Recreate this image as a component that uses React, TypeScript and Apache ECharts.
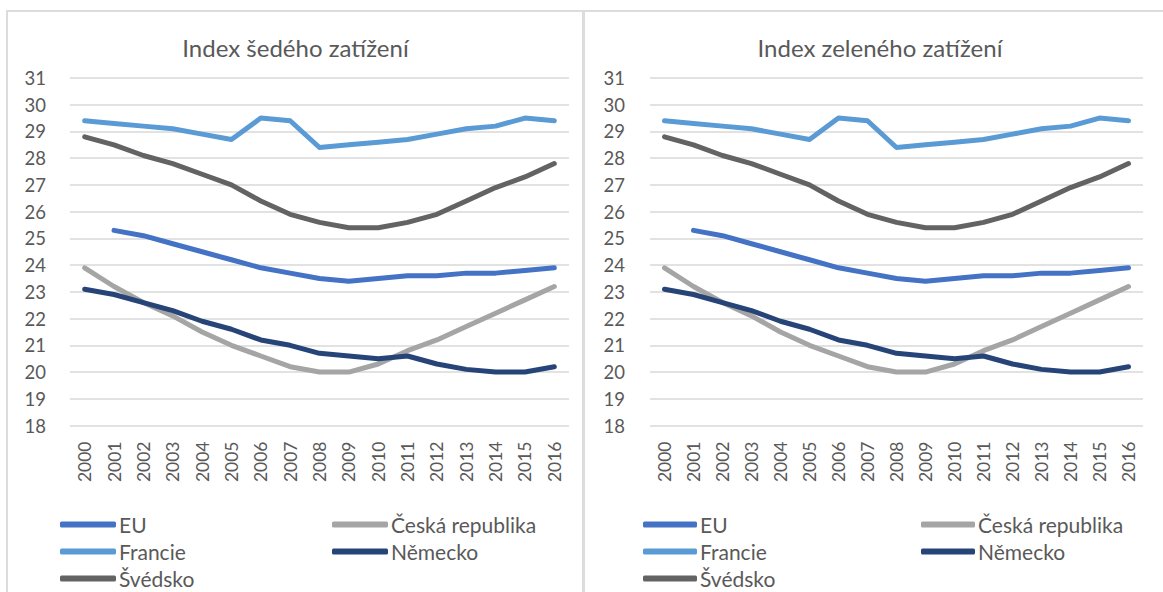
import React, { useEffect, useRef } from "react";
import * as echarts from "echarts";

const years = ["2000","2001","2002","2003","2004","2005","2006","2007","2008","2009","2010","2011","2012","2013","2014","2015","2016"];
const euValues = [null, 25.3, 25.1, 24.8, 24.5, 24.2, 23.9, 23.7, 23.5, 23.4, 23.5, 23.6, 23.6, 23.7, 23.7, 23.8, 23.9];
const czValues = [23.9, 23.2, 22.6, 22.1, 21.5, 21.0, 20.6, 20.2, 20.0, 20.0, 20.3, 20.8, 21.2, 21.7, 22.2, 22.7, 23.2];
const frValues = [29.4, 29.3, 29.2, 29.1, 28.9, 28.7, 29.5, 29.4, 28.4, 28.5, 28.6, 28.7, 28.9, 29.1, 29.2, 29.5, 29.4];
const deValues = [23.1, 22.9, 22.6, 22.3, 21.9, 21.6, 21.2, 21.0, 20.7, 20.6, 20.5, 20.6, 20.3, 20.1, 20.0, 20.0, 20.2];
const seValues = [28.8, 28.5, 28.1, 27.8, 27.4, 27.0, 26.4, 25.9, 25.6, 25.4, 25.4, 25.6, 25.9, 26.4, 26.9, 27.3, 27.8];

const seriesNames = ["EU", "Česká republika", "Francie", "Německo", "Švédsko"];
const seriesColors = ["#4472C4", "#A5A5A5", "#5B9BD5", "#264478", "#636363"];
const seriesValues = [euValues, czValues, frValues, deValues, seValues];

const titles = ["Index šedého zatížení", "Index zeleného zatížení"];

const FONT = "Lato, 'Open Sans', 'Noto Sans', sans-serif";
const TEXT = "#595959";

type Layout = {
  boxLeft: number;
  boxWidth: number;
  gridLeft: number;
  gridWidth: number;
  legendLeft1: number;
  legendLeft2: number;
  iconWidth: number;
  labelMargin: number;
};

const layouts: Layout[] = [
  { boxLeft: 7, boxWidth: 577, gridLeft: 63, gridWidth: 499, legendLeft1: 48, legendLeft2: 320, iconWidth: 56, labelMargin: 24 },
  { boxLeft: 583, boxWidth: 594, gridLeft: 67, gridWidth: 493, legendLeft1: 55, legendLeft2: 333, iconWidth: 54, labelMargin: 25 },
];

function buildOption(title: string, L: Layout) {
  const legendCommon = {
    orient: "vertical" as const,
    top: 498,
    itemWidth: L.iconWidth,
    itemHeight: 6,
    itemGap: 6,
    icon: "roundRect",
    textStyle: { color: TEXT, fontSize: 21, fontFamily: FONT, padding: [0, 0, 0, -2] },
  };
  return {
    animation: false,
    title: {
      text: title,
      left: "center",
      top: 19,
      textStyle: { color: TEXT, fontSize: 24, fontWeight: "normal", fontFamily: FONT },
    },
    legend: [
      { ...legendCommon, left: L.legendLeft1, data: ["EU", "Francie", "Švédsko"] },
      { ...legendCommon, left: L.legendLeft2, data: ["Česká republika", "Německo"] },
    ],
    grid: { left: L.gridLeft, width: L.gridWidth, top: 67, height: 347.5, containLabel: false },
    xAxis: {
      type: "category",
      data: years,
      boundaryGap: true,
      axisLine: { show: false },
      axisTick: { show: false },
      axisLabel: { rotate: 90, color: TEXT, fontSize: 17.5, fontFamily: FONT, margin: 16 },
    },
    yAxis: {
      type: "value",
      min: 18,
      max: 31,
      interval: 1,
      axisLine: { show: false },
      axisTick: { show: false },
      axisLabel: { color: TEXT, fontSize: 18.5, fontFamily: FONT, margin: L.labelMargin },
      splitLine: { lineStyle: { color: "#D9D9D9", width: 1.5 } },
    },
    series: seriesNames.map((name, i) => ({
      name,
      type: "line",
      data: seriesValues[i],
      symbol: "none",
      connectNulls: false,
      itemStyle: { color: seriesColors[i] },
      lineStyle: { color: seriesColors[i], width: 5, cap: "round", join: "round" },
    })),
  };
}

function ChartBox({ title, layout }: { title: string; layout: Layout }) {
  const ref = useRef<HTMLDivElement>(null);
  useEffect(() => {
    if (!ref.current) return;
    const chart = echarts.init(ref.current, undefined, { renderer: "svg" });
    chart.setOption(buildOption(title, layout));
    return () => chart.dispose();
  }, [title, layout]);
  return (
    <div
      style={{
        position: "absolute",
        left: layout.boxLeft - 1,
        top: 10,
        width: layout.boxWidth + 2,
        height: 620,
        border: "2px solid #DCDCDC",
        boxSizing: "border-box",
      }}
    >
      <div ref={ref} style={{ position: "absolute", left: -1, top: -1, width: layout.boxWidth, height: 618 }} />
    </div>
  );
}

export default function App() {
  return (
    <div
      style={{
        position: "fixed",
        left: 0,
        top: 0,
        width: 1163,
        height: 592,
        overflow: "hidden",
        background: "#fff",
      }}
    >
      <ChartBox title={titles[0]} layout={layouts[0]} />
      <ChartBox title={titles[1]} layout={layouts[1]} />
    </div>
  );
}
